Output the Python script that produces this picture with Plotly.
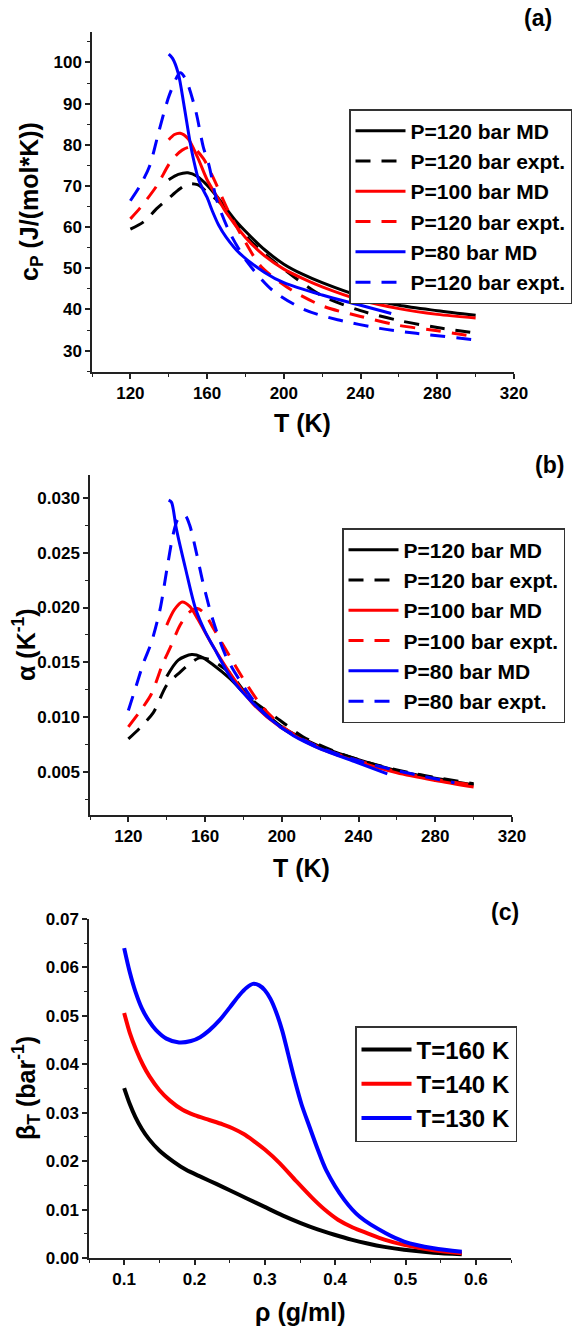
import plotly.graph_objects as go

# ---------------- Panel (a): heat capacity ----------------
a_T_md120 = [140, 145, 150, 155, 160, 165, 170, 175, 180, 190, 200, 210, 220, 240, 260, 280, 300]
a_cp_md120 = [71.5, 72.8, 73.2, 72.3, 70.2, 67.5, 64.5, 61.5, 59.0, 54.5, 51.0, 48.5, 46.5, 43.2, 41.0, 39.7, 38.6]

a_T_ex120 = [120, 127, 134, 140, 145, 150, 155, 160, 167, 175, 182, 190, 205, 220, 240, 260, 280, 300]
a_cp_ex120 = [59.5, 61.3, 64.6, 67.0, 69.0, 70.5, 70.3, 68.5, 65.8, 61.0, 57.0, 53.5, 48.0, 43.3, 39.7, 37.3, 35.6, 34.3]

a_T_md100 = [140, 143, 146, 150, 155, 160, 165, 170, 180, 190, 200, 210, 220, 240, 260, 280, 300]
a_cp_md100 = [81.2, 82.5, 82.8, 81.5, 77.0, 71.5, 67.5, 63.5, 57.5, 53.0, 49.8, 47.5, 45.5, 42.3, 40.2, 38.8, 37.9]

a_T_ex100 = [120, 125, 134, 141, 147, 152, 158, 163, 172, 180, 188, 204, 221, 240, 259, 280, 300]
a_cp_ex100 = [62.0, 64.6, 70.2, 75.9, 78.7, 79.5, 76.7, 72.2, 63.0, 56.3, 50.5, 44.7, 40.7, 38.3, 36.2, 34.8, 33.4]

a_T_md80 = [140, 142, 145, 148, 151, 153, 155.5, 158, 160, 163, 166, 170, 177, 190, 200, 220, 240, 256]
a_cp_md80 = [102.0, 101.0, 97.3, 89.5, 81.0, 76.3, 71.6, 69.0, 67.2, 63.6, 60.5, 57.5, 53.6, 49.0, 46.5, 43.5, 41.0, 39.0]

a_T_ex80 = [120, 125, 130, 135, 140.5, 146, 149, 154, 158, 161, 165, 172, 181, 194, 211, 228, 250, 269, 300]
a_cp_ex80 = [66.4, 70.0, 74.8, 83.5, 92.3, 97.5, 95.8, 88.4, 79.5, 75.0, 66.6, 58.5, 51.5, 44.7, 39.9, 37.5, 35.4, 34.2, 32.6]

# ---------------- Panel (b): thermal expansion ----------------
b_T_md120 = [140, 146, 153, 158, 164, 173, 183, 200, 220, 240, 260, 280, 300]
b_a_md120 = [0.0137, 0.0152, 0.0157, 0.0155, 0.0148, 0.0135, 0.0117, 0.0091, 0.0073, 0.0061, 0.0051, 0.0044, 0.0038]

b_T_ex120 = [120, 126, 133, 140, 147, 153, 157, 163, 173, 183, 199, 211, 230, 250, 270, 300]
b_a_ex120 = [0.0080, 0.0090, 0.0104, 0.0129, 0.0141, 0.0150, 0.0154, 0.0152, 0.0140, 0.0118, 0.0097, 0.0082, 0.0067, 0.0056, 0.0048, 0.0039]

b_T_md100 = [140, 144, 148, 152, 156, 164, 173, 185, 199, 220, 240, 260, 280, 300]
b_a_md100 = [0.0184, 0.0198, 0.0205, 0.0201, 0.0190, 0.0165, 0.0140, 0.0112, 0.0091, 0.0071, 0.0059, 0.0049, 0.0042, 0.0036]

b_T_ex100 = [120, 126, 132, 138, 142, 147, 152, 156, 160, 164, 173, 182, 190, 202, 220, 240, 260, 280, 300]
b_a_ex100 = [0.0091, 0.0105, 0.0121, 0.0149, 0.0164, 0.0184, 0.0196, 0.0199, 0.0194, 0.0182, 0.0155, 0.0129, 0.0109, 0.0089, 0.0072, 0.0060, 0.0050, 0.0043, 0.0038]

b_T_md80 = [141, 142.5, 145, 150, 155, 160, 165, 173, 182, 194, 206, 220, 240, 255]
b_a_md80 = [0.0298, 0.0296, 0.0272, 0.0234, 0.0199, 0.0178, 0.0162, 0.0137, 0.0118, 0.0098, 0.0083, 0.0071, 0.0058, 0.0048]

b_T_ex80 = [120, 124, 128, 132, 136.5, 140, 143.5, 146, 149.5, 152, 155.6, 159, 164, 171, 182, 190, 200, 220, 240, 260, 290]
b_a_ex80 = [0.0106, 0.0128, 0.0150, 0.0168, 0.0198, 0.0234, 0.0268, 0.0281, 0.0284, 0.0275, 0.0249, 0.0222, 0.0189, 0.0155, 0.0123, 0.0105, 0.0090, 0.0072, 0.0060, 0.0051, 0.0040]

# ---------------- Panel (c): isothermal compressibility ----------------
c_rho_160 = [0.100, 0.108, 0.116, 0.125, 0.135, 0.150, 0.170, 0.188, 0.210, 0.231, 0.250, 0.273, 0.299, 0.325,
             0.351, 0.375, 0.399, 0.423, 0.446, 0.470, 0.498, 0.540, 0.580]
c_b_160 = [0.0351, 0.0318, 0.0291, 0.0267, 0.0246, 0.0222, 0.0199, 0.0182, 0.0167, 0.0153, 0.0140, 0.0124, 0.0106, 0.0088,
           0.0072, 0.0059, 0.0048, 0.0038, 0.0030, 0.0023, 0.0017, 0.0011, 0.0008]

c_rho_140 = [0.100, 0.108, 0.117, 0.127, 0.136, 0.150, 0.165, 0.183, 0.200, 0.221, 0.240, 0.254, 0.270, 0.283,
             0.300, 0.321, 0.345, 0.368, 0.385, 0.404, 0.425, 0.446, 0.470, 0.498, 0.540, 0.580]
c_b_140 = [0.0506, 0.0465, 0.0430, 0.0398, 0.0375, 0.0347, 0.0325, 0.0306, 0.0295, 0.0285, 0.0276, 0.0268, 0.0256, 0.0243,
           0.0224, 0.0196, 0.0158, 0.0123, 0.0100, 0.0079, 0.0063, 0.0051, 0.0038, 0.0027, 0.0016, 0.0010]

c_rho_130 = [0.100, 0.108, 0.116, 0.125, 0.135, 0.145, 0.160, 0.178, 0.195, 0.208, 0.221, 0.235, 0.250, 0.264, 0.274,
             0.283, 0.292, 0.300, 0.308, 0.316, 0.325, 0.333, 0.342, 0.352, 0.3635, 0.375, 0.387, 0.413, 0.435, 0.472,
             0.498, 0.540, 0.580]
c_b_130 = [0.0640, 0.0590, 0.0550, 0.0516, 0.0490, 0.0471, 0.0453, 0.0445, 0.0448, 0.0456, 0.0470, 0.0490, 0.0517, 0.0543, 0.0558,
           0.0566, 0.0563, 0.0553, 0.0535, 0.0508, 0.0468, 0.0422, 0.0370, 0.0318, 0.0271, 0.0225, 0.0182, 0.0120, 0.0085, 0.0051,
           0.0034, 0.0020, 0.0013]

# ---------------- Labels ----------------
legend_a = ["P=120 bar MD", "P=120 bar expt.", "P=100 bar MD", "P=120 bar expt.", "P=80 bar MD", "P=120 bar expt."]
legend_b = ["P=120 bar MD", "P=120 bar expt.", "P=100 bar MD", "P=100 bar expt.", "P=80 bar MD", "P=80 bar expt."]
legend_c = ["T=160 K", "T=140 K", "T=130 K"]
colors = ["#000000", "#000000", "#ff0000", "#ff0000", "#0000ff", "#0000ff"]
dashes = ["solid", "15px,11px", "solid", "15px,11px", "solid", "15px,11px"]

FONT = "Liberation Sans"
W, H = 577, 1329

fig = go.Figure()

a_series = [(a_T_md120, a_cp_md120), (a_T_ex120, a_cp_ex120), (a_T_md100, a_cp_md100),
            (a_T_ex100, a_cp_ex100), (a_T_md80, a_cp_md80), (a_T_ex80, a_cp_ex80)]
for i, (xs, ys) in enumerate(a_series):
    fig.add_trace(go.Scatter(x=xs, y=ys, mode="lines", name=legend_a[i],
                             line=dict(color=colors[i], width=3, dash=dashes[i], shape="spline", smoothing=0.8),
                             xaxis="x", yaxis="y", legend="legend"))

b_series = [(b_T_md120, b_a_md120), (b_T_ex120, b_a_ex120), (b_T_md100, b_a_md100),
            (b_T_ex100, b_a_ex100), (b_T_md80, b_a_md80), (b_T_ex80, b_a_ex80)]
for i, (xs, ys) in enumerate(b_series):
    fig.add_trace(go.Scatter(x=xs, y=ys, mode="lines", name=legend_b[i],
                             line=dict(color=colors[i], width=3, dash=dashes[i], shape="spline", smoothing=0.8),
                             xaxis="x2", yaxis="y2", legend="legend2"))

c_series = [(c_rho_160, c_b_160), (c_rho_140, c_b_140), (c_rho_130, c_b_130)]
c_colors = ["#000000", "#ff0000", "#0000ff"]
for i, (xs, ys) in enumerate(c_series):
    fig.add_trace(go.Scatter(x=xs, y=ys, mode="lines", name=legend_c[i],
                             line=dict(color=c_colors[i], width=4, shape="spline", smoothing=0.8),
                             xaxis="x3", yaxis="y3", legend="legend3"))


def ax(domain, rng, dtick, minor_dtick, anchor, fmt=None, tick0=None):
    d = dict(domain=domain, range=rng, dtick=dtick, anchor=anchor,
             showline=True, linecolor="#222222", linewidth=1.5,
             ticks="outside", ticklen=5, tickwidth=1.5, tickcolor="#222222",
             minor=dict(ticks="outside", ticklen=3, tickwidth=1.2, dtick=minor_dtick, tickcolor="#222222"),
             showgrid=False, zeroline=False,
             tickfont=dict(family=FONT, size=17, color="black", weight="bold"))
    if fmt:
        d["tickformat"] = fmt
    if tick0 is not None:
        d["tick0"] = tick0
        d["minor"]["tick0"] = tick0
    return d


def px_x(p):
    return p / W


def px_y(p):
    return 1 - p / H


fig.update_layout(
    width=W, height=H, autosize=False,
    margin=dict(l=0, r=0, t=0, b=0, autoexpand=False),
    paper_bgcolor="white", plot_bgcolor="white",
    xaxis=ax([px_x(92), px_x(514)], [100, 320], 40, 20, "y", tick0=0),
    yaxis=ax([px_y(372), px_y(32)], [24.8, 107.4], 10, 5, "x", tick0=0),
    xaxis2=ax([px_x(90), px_x(512)], [100, 320], 40, 20, "y2", tick0=0),
    yaxis2=ax([px_y(815), px_y(475)], [0.00105, 0.0321], 0.005, 0.0025, "x2", fmt=".3f", tick0=0),
    xaxis3=ax([px_x(89), px_x(511)], [0.05, 0.65], 0.1, 0.05, "y3", fmt=".1f", tick0=0),
    yaxis3=ax([px_y(1258), px_y(919)], [0, 0.07], 0.01, 0.005, "x3", fmt=".2f", tick0=0),
)

leg_common = dict(xanchor="left", yanchor="top", bgcolor="white", bordercolor="#333333", borderwidth=1.5,
                  itemwidth=50, tracegroupgap=0)
fig.update_layout(
    legend=dict(x=px_x(349), y=px_y(109), font=dict(family=FONT, size=21, color="black", weight="bold"), **leg_common),
    legend2=dict(x=px_x(342), y=px_y(528), font=dict(family=FONT, size=21, color="black", weight="bold"), **leg_common),
    legend3=dict(x=px_x(355), y=px_y(1026), font=dict(family=FONT, size=24, color="black", weight="bold"), **leg_common),
)

ann_font = dict(family=FONT, size=25, color="black", weight="bold")
annotations = [
    dict(text="(a)", x=px_x(538), y=px_y(18), font=dict(family=FONT, size=23, color="black", weight="bold")),
    dict(text="(b)", x=px_x(549), y=px_y(465), font=dict(family=FONT, size=23, color="black", weight="bold")),
    dict(text="(c)", x=px_x(505), y=px_y(912), font=dict(family=FONT, size=23, color="black", weight="bold")),
    dict(text="T (K)", x=px_x(302), y=px_y(423), font=ann_font),
    dict(text="T (K)", x=px_x(301), y=px_y(868), font=ann_font),
    dict(text="ρ (g/ml)", x=px_x(300), y=px_y(1312), font=ann_font),
    dict(text="c<sub>P</sub> (J/(mol*K))", x=px_x(31), y=px_y(202), textangle=-90, font=ann_font),
    dict(text="α (K<sup>-1</sup>)", x=px_x(24), y=px_y(645), textangle=-90, font=ann_font),
    dict(text="β<sub>T</sub> (bar<sup>-1</sup>)", x=px_x(26), y=px_y(1088), textangle=-90, font=ann_font),
]
for a in annotations:
    a.update(xref="paper", yref="paper", xanchor="center", yanchor="middle", showarrow=False)
fig.update_layout(annotations=annotations)

fig.write_html("out.html", config={"displayModeBar": False},
               post_script="document.body.style.margin='0';document.body.style.overflow='hidden';")
